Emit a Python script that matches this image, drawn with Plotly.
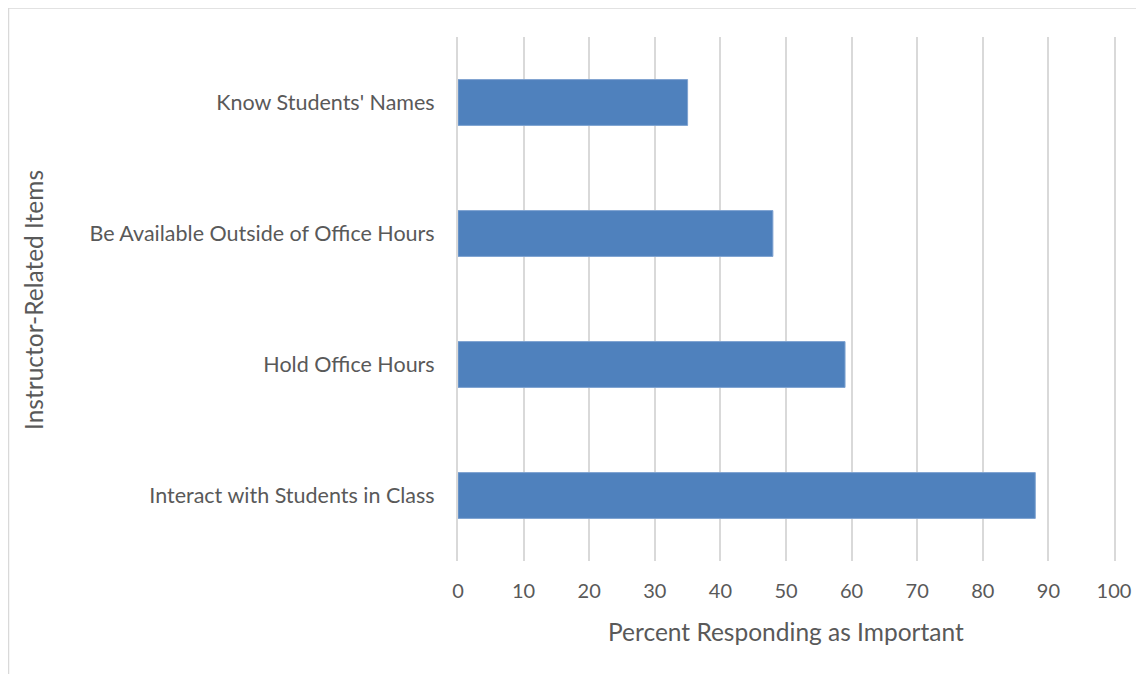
import plotly.graph_objects as go

categories = ["Interact with Students in Class", "Hold Office Hours",
              "Be Available Outside of Office Hours", "Know Students' Names"]
values = [88, 59, 48, 35]
x_ticks = [0, 10, 20, 30, 40, 50, 60, 70, 80, 90, 100]

# page body has an 8px margin, so the figure is laid out 8px in from the window edge
W, H = 1136, 666
L, R, T, B = 450, 30, 29, 113
pw, ph = W - L - R, H - T - B

font_family = "Lato, 'Open Sans', sans-serif"
txt = "#595959"
grid = "#D9D9D9"

fig = go.Figure(go.Bar(
    y=categories, x=values, orientation="h",
    marker=dict(color="#4F81BD", line=dict(color="#7FA3D1", width=1)),
    width=0.35,
))

fig.update_layout(
    width=W, height=H,
    margin=dict(l=L, r=R, t=T, b=B),
    paper_bgcolor="white", plot_bgcolor="white",
    font=dict(family=font_family, color=txt, size=20),
    showlegend=False,
    xaxis=dict(range=[0, 100], tickvals=x_ticks, showgrid=True,
               gridcolor=grid, gridwidth=2, zeroline=False,
               showline=False, ticks="", tickfont=dict(size=20, color=txt),
               ticklabelstandoff=16),
    yaxis=dict(showgrid=False, zeroline=False, ticks="",
               showline=True, mirror=True, linecolor=grid, linewidth=2,
               layer="below traces",
               tickfont=dict(size=21.5, color=txt), ticklabelstandoff=17,
               range=[-0.5, 3.5]),
)

# chart area frame (top and left edges visible)
fig.add_shape(type="rect", xref="paper", yref="paper",
              x0=(0.5 - L) / pw, x1=(W + 10 - L) / pw,
              y0=(H - B - (H + 10)) / ph, y1=(H - B - 0) / ph,
              line=dict(color=grid, width=1.5), layer="below")

fig.add_annotation(text="Percent Responding as Important", xref="paper", yref="paper",
                   x=0.5, y=-70 / ph, showarrow=False,
                   font=dict(size=24.5, color=txt),
                   xanchor="center", yanchor="middle")

fig.add_annotation(text="Instructor-Related Items", xref="paper", yref="paper",
                   x=(25 - L) / pw, y=(H - B - 292) / ph, textangle=-90,
                   showarrow=False, font=dict(size=24.5, color=txt),
                   xanchor="center", yanchor="middle")

fig.write_html("out.html")
